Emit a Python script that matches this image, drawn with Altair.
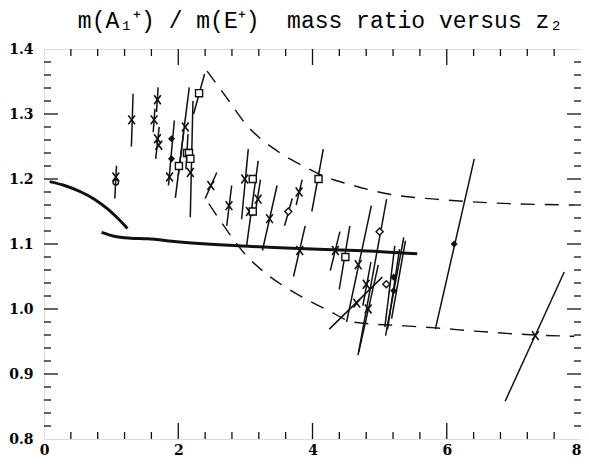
import altair as alt
import pandas as pd

# ---- data ----
cross_x = [1.07, 1.306, 1.64, 1.69, 1.69, 1.71, 1.87, 2.105, 2.18, 2.485, 2.756, 2.99, 3.06,
           3.19, 3.36, 3.80, 3.81, 4.34, 4.68, 4.80, 4.66, 4.83, 7.32]
cross_y = [1.203, 1.291, 1.291, 1.322, 1.262, 1.252, 1.203, 1.280, 1.210, 1.190, 1.159, 1.200, 1.150,
           1.169, 1.139, 1.180, 1.090, 1.090, 1.068, 1.038, 1.009, 1.000, 0.959]

square_x = [2.01, 2.13, 2.16, 2.18, 2.31, 3.11, 3.11, 4.09, 4.49]
square_y = [1.220, 1.240, 1.240, 1.231, 1.332, 1.200, 1.150, 1.200, 1.080]

diamond_x = [3.64, 5.00, 5.10]
diamond_y = [1.150, 1.119, 1.038]

fdiamond_x = [1.90, 1.90, 5.21, 5.21, 6.11]
fdiamond_y = [1.262, 1.231, 1.049, 1.028, 1.100]

circle_x = [1.07]
circle_y = [1.195]

err_x1 = [1.080, 1.327, 1.700, 1.652, 1.716, 1.942, 2.081, 2.164, 2.219, 2.145, 2.392, 2.574, 2.796,
          3.043, 3.191, 3.225, 3.472, 3.698, 3.846, 4.161, 3.891, 4.408, 4.556, 4.877, 5.104, 4.98,
          4.87, 5.04, 5.226, 5.359, 5.296, 5.385, 6.41, 7.75]
err_y1 = [1.2205, 1.331, 1.341, 1.308, 1.280, 1.290, 1.272, 1.341, 1.320, 1.269, 1.3615, 1.210, 1.190,
          1.246, 1.228, 1.199, 1.190, 1.170, 1.199, 1.246, 1.128, 1.119, 1.128, 1.159, 1.169, 1.068,
          1.072, 1.049, 1.097, 1.110, 1.092, 1.105, 1.231, 1.057]
err_x2 = [1.055, 1.302, 1.676, 1.627, 1.664, 1.854, 2.000, 1.957, 2.179, 2.115, 2.229, 2.401, 2.722,
          2.944, 3.018, 3.141, 3.254, 3.584, 3.757, 3.990, 3.717, 4.265, 4.398, 4.507, 4.679, 4.69,
          4.75, 4.25, 5.078, 5.089, 5.118, 5.178, 5.83, 6.87]
err_y2 = [1.170, 1.250, 1.303, 1.272, 1.231, 1.190, 1.205, 1.171, 1.141, 1.215, 1.300, 1.170, 1.128,
          1.138, 1.097, 1.144, 1.090, 1.128, 1.160, 1.150, 1.050, 1.059, 1.030, 0.980, 0.929, 0.934,
          1.005, 0.969, 0.972, 0.959, 0.969, 0.985, 0.969, 0.858]

curve1_x = [0.084, 0.306, 0.552, 0.75, 0.947, 1.095, 1.243]
curve1_y = [1.196, 1.190, 1.180, 1.169, 1.154, 1.140, 1.124]

curve2_x = [0.858, 1.046, 1.29, 1.54, 1.98, 2.94, 3.80, 4.645, 5.56]
curve2_y = [1.118, 1.112, 1.109, 1.108, 1.1035, 1.097, 1.093, 1.090, 1.085]

upper_x = [2.43, 2.77, 2.97, 3.49, 3.86, 4.20, 4.54, 5.24, 5.83, 6.72, 7.90]
upper_y = [1.366, 1.318, 1.289, 1.242, 1.220, 1.203, 1.192, 1.175, 1.169, 1.163, 1.160]

lower_x = [2.456, 2.747, 2.99, 3.29, 3.56, 3.905, 4.25, 4.60, 5.38, 5.83, 6.42, 7.32, 7.90]
lower_y = [1.162, 1.118, 1.085, 1.056, 1.036, 1.015, 0.997, 0.980, 0.974, 0.971, 0.966, 0.960, 0.958]

x_labels = [0, 2, 4, 6, 8]
y_labels = [0.8, 0.9, 1.0, 1.1, 1.2, 1.3, 1.4]
x_minor = [0.4, 0.8, 1.2, 1.6, 2.4, 2.8, 3.2, 3.6, 4.4, 4.8, 5.2, 5.6, 6.4, 6.8, 7.2, 7.6]
x_major = [2, 4, 6]
y_minor = [0.82, 0.84, 0.86, 0.88, 0.92, 0.94, 0.96, 0.98, 1.02, 1.04, 1.06, 1.08,
           1.12, 1.14, 1.16, 1.18, 1.22, 1.24, 1.26, 1.28, 1.32, 1.34, 1.36, 1.38]
y_major = [0.9, 1.0, 1.1, 1.2, 1.3]

W, H = 537, 390
INK = "#111111"
FONT = "DejaVu Serif"

xs = alt.Scale(domain=[0, 8], nice=False, zero=False)
ys = alt.Scale(domain=[0.8, 1.4], nice=False, zero=False)
xaxis = alt.Axis(values=x_labels, format="d", ticks=False, domain=False, grid=False, title=None,
                 labelFont=FONT, labelFontWeight="bold", labelFontSize=14, labelPadding=4,
                 labelColor="black", labelFlush=False, labelOverlap=False,
                 labelAlign={"condition": {"test": "datum.value == 8", "value": "right"}, "value": "center"})
yaxis = alt.Axis(values=y_labels, format=".1f", ticks=False, domain=False, grid=False, title=None,
                 labelFont=FONT, labelFontWeight="bold", labelFontSize=14, labelPadding=11,
                 labelColor="black", labelFlush=False, labelOverlap=False)


def X(f):
    return alt.X(f, type="quantitative", scale=xs, axis=xaxis)


def Y(f):
    return alt.Y(f, type="quantitative", scale=ys, axis=yaxis)


def df(**kw):
    return pd.DataFrame(kw)


layers = []

# error segments
layers.append(alt.Chart(df(x1=err_x1, y1=err_y1, x2=err_x2, y2=err_y2)).mark_rule(
    color=INK, strokeWidth=1.5).encode(x=X("x1"), y=Y("y1"), x2="x2", y2="y2"))

# thick solid curves
for cx, cy in [(curve1_x, curve1_y), (curve2_x, curve2_y)]:
    layers.append(alt.Chart(df(x=cx, y=cy)).mark_line(
        color=INK, strokeWidth=3, interpolate="monotone").encode(x=X("x"), y=Y("y")))

# dashed curves
for cx, cy in [(upper_x, upper_y), (lower_x, lower_y)]:
    layers.append(alt.Chart(df(x=cx, y=cy)).mark_line(
        color=INK, strokeWidth=1.4, strokeDash=[14, 10], interpolate="monotone").encode(x=X("x"), y=Y("y")))

# markers
layers.append(alt.Chart(df(x=cross_x, y=cross_y)).mark_point(
    shape="M-0.75,-1L0.75,1M-0.75,1L0.75,-1", size=80, filled=False, color=INK, strokeWidth=1.6, opacity=1
).encode(x=X("x"), y=Y("y")))
layers.append(alt.Chart(df(x=square_x, y=square_y)).mark_point(
    shape="square", size=50, filled=False, color=INK, strokeWidth=1.4, opacity=1, fill="white", fillOpacity=1
).encode(x=X("x"), y=Y("y")))
layers.append(alt.Chart(df(x=diamond_x, y=diamond_y)).mark_point(
    shape="diamond", size=50, filled=False, color=INK, strokeWidth=1.4, opacity=1, fill="white", fillOpacity=1
).encode(x=X("x"), y=Y("y")))
layers.append(alt.Chart(df(x=fdiamond_x, y=fdiamond_y)).mark_point(
    shape="diamond", size=50, filled=True, color=INK, opacity=1
).encode(x=X("x"), y=Y("y")))
layers.append(alt.Chart(df(x=circle_x, y=circle_y)).mark_point(
    shape="circle", size=30, filled=False, color=INK, strokeWidth=1.4, opacity=1
).encode(x=X("x"), y=Y("y")))


# inward ticks on all four sides
def xticks(vals, length):
    d = df(v=vals)
    bot = alt.Chart(d).mark_rule(color=INK, strokeWidth=1.3).encode(
        x=X("v"), y=alt.value(H), y2=alt.value(H - length))
    top = alt.Chart(d).mark_rule(color=INK, strokeWidth=1.3).encode(
        x=X("v"), y=alt.value(0), y2=alt.value(length))
    return [bot, top]


def yticks(vals, length):
    d = df(v=vals)
    left = alt.Chart(d).mark_rule(color=INK, strokeWidth=1.3).encode(
        y=Y("v"), x=alt.value(0), x2=alt.value(length))
    right = alt.Chart(d).mark_rule(color=INK, strokeWidth=1.3).encode(
        y=Y("v"), x=alt.value(W), x2=alt.value(W - length))
    return [left, right]


layers += xticks(x_minor, 7) + xticks(x_major, 16) + yticks(y_minor, 7) + yticks(y_major, 14)

chart = alt.layer(*layers).properties(
    width=W, height=H,
    autosize=alt.AutoSizeParams(type="none"),
    padding={"left": 36, "top": 41, "right": 0, "bottom": 20},
    title=alt.TitleParams(text="m(A\u2081\u207a) / m(E\u207a)\u00a0 mass ratio versus z\u2082",
                          font="Liberation Mono", fontSize=23, fontWeight="normal", anchor="middle",
                          offset=9, dx=8, color="black"),
).configure_view(stroke=INK, strokeWidth=1.6).configure(background="white")

chart.save("out.html", embed_options={"renderer": "svg", "actions": False})
